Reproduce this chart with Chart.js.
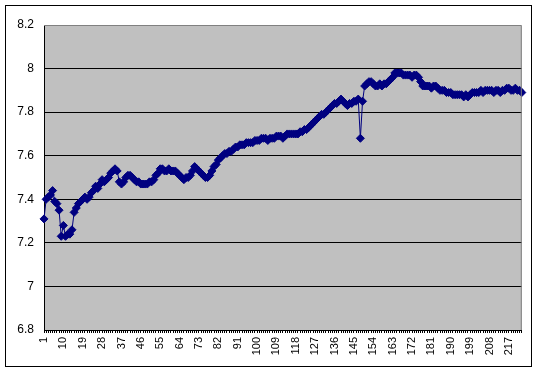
<!DOCTYPE html>
<html>
<head>
<meta charset="utf-8">
<script src="https://cdn.jsdelivr.net/npm/chart.js@4/dist/chart.umd.min.js"></script>
<style>
  html, body { margin: 0; padding: 0; background: #fff; }
  canvas { display: block; }
</style>
</head>
<body>
<canvas id="chart" width="539" height="373"></canvas>
<script>
// --- data ---
const values = [
  7.31, 7.40, 7.41, 7.42, 7.44, 7.39, 7.38, 7.35, 7.23, 7.28,
  7.23, 7.24, 7.24, 7.26, 7.34, 7.36, 7.38, 7.39, 7.40, 7.41,
  7.40, 7.41, 7.43, 7.44, 7.46, 7.45, 7.47, 7.49, 7.48, 7.49,
  7.50, 7.52, 7.53, 7.54, 7.53, 7.48, 7.47, 7.48, 7.50, 7.51,
  7.51, 7.50, 7.49, 7.48, 7.48, 7.47, 7.47, 7.47, 7.47, 7.48,
  7.48, 7.49, 7.51, 7.52, 7.54, 7.54, 7.53, 7.53, 7.54, 7.53,
  7.53, 7.53, 7.52, 7.51, 7.50, 7.49, 7.50, 7.50, 7.51, 7.53,
  7.55, 7.54, 7.53, 7.52, 7.51, 7.50, 7.50, 7.51, 7.53, 7.55,
  7.56, 7.58, 7.59, 7.60, 7.61, 7.61, 7.62, 7.62, 7.63, 7.64,
  7.64, 7.65, 7.65, 7.65, 7.66, 7.66, 7.66, 7.66, 7.67, 7.67,
  7.67, 7.68, 7.68, 7.68, 7.67, 7.68, 7.68, 7.68, 7.69, 7.69,
  7.69, 7.68, 7.69, 7.70, 7.70, 7.70, 7.70, 7.70, 7.70, 7.71,
  7.71, 7.72, 7.72, 7.73, 7.74, 7.75, 7.76, 7.77, 7.78, 7.79,
  7.79, 7.80, 7.81, 7.82, 7.83, 7.84, 7.84, 7.85, 7.86, 7.85,
  7.84, 7.83, 7.84, 7.84, 7.85, 7.85, 7.86, 7.68, 7.85, 7.92,
  7.93, 7.94, 7.94, 7.93, 7.92, 7.92, 7.93, 7.92, 7.93, 7.93,
  7.94, 7.95, 7.96, 7.98, 7.98, 7.98, 7.98, 7.97, 7.97, 7.97,
  7.97, 7.96, 7.97, 7.97, 7.96, 7.94, 7.92, 7.92, 7.92, 7.92,
  7.91, 7.92, 7.92, 7.91, 7.90, 7.90, 7.90, 7.89, 7.89, 7.89,
  7.88, 7.88, 7.88, 7.88, 7.88, 7.87, 7.88, 7.87, 7.88, 7.89,
  7.89, 7.89, 7.89, 7.90, 7.89, 7.90, 7.90, 7.90, 7.90, 7.89,
  7.90, 7.90, 7.89, 7.90, 7.90, 7.91, 7.91, 7.90, 7.90, 7.91,
  7.90, 7.90, 7.89
];
const categories = values.map((v, i) => String(i + 1));
const labelEvery = 9;          // x labels shown: 1, 10, 19 ... 217
const yMin = 6.8, yMax = 8.2, yStep = 0.2;

// plot frame, grey background, outer border
const framePlugin = {
  id: 'frame',
  beforeDraw(chart) {
    const { ctx, chartArea: a } = chart;
    ctx.save();
    ctx.fillStyle = '#fff';
    ctx.fillRect(0, 0, chart.width, chart.height);
    ctx.fillStyle = '#c0c0c0';
    ctx.fillRect(a.left, a.top, a.right - a.left, a.bottom - a.top);
    ctx.strokeStyle = '#000';
    ctx.lineWidth = 1;
    ctx.strokeRect(5.5, 5.5, 526, 361);
    ctx.restore();
  },
  afterDatasetsDraw(chart) {
    const { ctx, chartArea: a } = chart;
    ctx.save();
    ctx.strokeStyle = '#808080';
    ctx.lineWidth = 1;
    ctx.beginPath();
    ctx.moveTo(a.left, a.top + 0.5);
    ctx.lineTo(a.right - 0.5, a.top + 0.5);
    ctx.lineTo(a.right - 0.5, a.bottom);
    ctx.stroke();
    ctx.restore();
  }
};

new Chart(document.getElementById('chart'), {
  type: 'line',
  data: {
    labels: categories,
    datasets: [{
      data: values,
      borderColor: '#000080',
      backgroundColor: '#000080',
      borderWidth: 1,
      pointStyle: 'rectRot',
      pointRadius: 4,
      pointBorderWidth: 1,
      pointBackgroundColor: '#000080',
      pointBorderColor: '#000080',
      tension: 0
    }]
  },
  options: {
    responsive: false,
    animation: false,
    layout: { padding: { left: 5, right: 16, top: 25, bottom: 6 } },
    plugins: { legend: { display: false }, tooltip: { enabled: false } },
    scales: {
      x: {
        offset: false,
        afterFit: s => { s.height = 37; },
        border: { color: '#000', width: 1 },
        grid: { drawOnChartArea: false, drawTicks: true, tickLength: 3, color: '#000' },
        ticks: {
          autoSkip: false, maxRotation: 90, minRotation: 90, padding: 4,
          color: '#000', font: { family: 'Liberation Sans, Arial', size: 11 },
          callback: (v, i) => (i % labelEvery === 0 ? categories[i] : '')
        }
      },
      y: {
        min: yMin, max: yMax,
        afterFit: s => { s.width = 39; },
        border: { color: '#000', width: 1 },
        grid: {
          drawTicks: false,
          color: c => (c.tick && Math.abs(c.tick.value - yMax) < 1e-6 ? 'rgba(0,0,0,0)' : '#000')
        },
        ticks: {
          stepSize: yStep, padding: 10, color: '#000',
          font: { family: 'Liberation Sans, Arial', size: 12 },
          callback: v => String(+v.toFixed(1))
        }
      }
    }
  },
  plugins: [framePlugin]
});
</script>
</body>
</html>
